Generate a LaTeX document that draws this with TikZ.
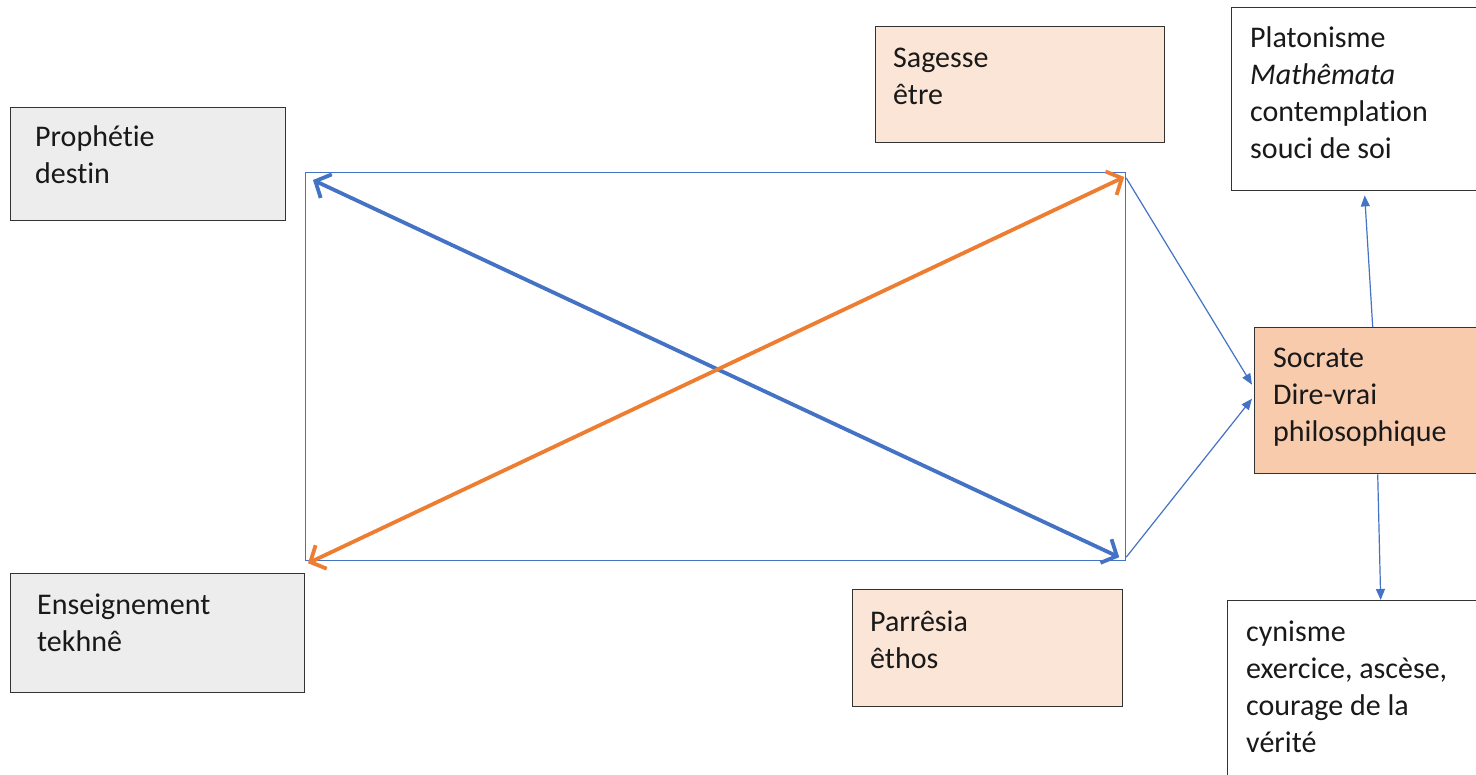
\documentclass[tikz,border=0pt]{standalone}
\usepackage{fontspec}
\setmainfont{Carlito}[Ligatures=NoCommon]
\usetikzlibrary{arrows.meta}
\definecolor{frameblue}{HTML}{4472C4}
\definecolor{orangeA}{HTML}{ED7D31}
\definecolor{grayfill}{HTML}{EDEDED}
\definecolor{peachlight}{HTML}{FBE5D6}
\definecolor{peach}{HTML}{F8CBAD}
\definecolor{boxborder}{HTML}{333333}
\begin{document}
\begin{tikzpicture}[x=1pt,y=-1pt,
  box/.style={draw=boxborder, line width=1.4pt, rectangle, inner sep=0pt, anchor=north west},
  txt/.style={font=\fontsize{30}{37}\selectfont, align=left, inner sep=0pt, anchor=base west, text=black!90},
  thickarrow/.style={line width=3.8pt, {Straight Barb[length=12pt,width=26pt]}-{Straight Barb[length=12pt,width=26pt]}},
  thinarrow/.style={draw=frameblue, line width=1.2pt, -{Triangle[length=11pt,width=9pt]}}]
\clip (0,0) rectangle (1476,775);
\fill[white] (0,0) rectangle (1476,775);
% boxes
\node[box, fill=grayfill, minimum width=275pt, minimum height=113pt] (proph) at (10,107) {};
\node[box, fill=grayfill, minimum width=294pt, minimum height=119pt] (ens) at (10,573) {};
\node[box, fill=peachlight, minimum width=289pt, minimum height=116pt] (sag) at (875,26) {};
\node[box, fill=peachlight, minimum width=270pt, minimum height=117pt] (parr) at (852,589) {};
\node[box, fill=white, minimum width=260pt, minimum height=183pt] (plat) at (1231,7) {};
\node[box, fill=peach, minimum width=230pt, minimum height=146pt] (socr) at (1254,327) {};
\node[box, fill=white, minimum width=260pt, minimum height=190pt] (cyn) at (1227,600) {};
\node[draw=frameblue, line width=1.2pt, rectangle, inner sep=0pt, anchor=north west, minimum width=820pt, minimum height=388pt] (frame) at (305,172) {};
% texts (anchored at the baseline of the last line)
\node[txt] (tproph) at (35,184) {Prophétie\\destin};
\node[txt] (tens) at (37,651) {Enseignement\\tekhnê};
\node[txt] (tsag) at (893,105) {Sagesse\\être};
\node[txt] (tparr) at (870,668) {Parrêsia\\êthos};
\node[txt] (tplat) at (1250,159) {Platonisme\\\textit{Mathêmata}\\contemplation\\souci de soi};
\node[txt] (tsocr) at (1273,442) {Socrate\\Dire-vrai\\philosophique};
\node[txt] (tcyn) at (1246,752) {cynisme\\exercice, ascèse,\\courage de la\\vérité};
% connectors
\coordinate (bA) at ([shift={(8,8)}]frame.north west);
\coordinate (bB) at ([shift={(-7,-4)}]frame.south east);
\coordinate (oA) at ([shift={(-2,5)}]frame.north east);
\coordinate (oB) at ([shift={(3,2)}]frame.south west);
\draw[thickarrow, draw=frameblue] (bA) -- (bB);
\draw[thickarrow, draw=orangeA] (oA) -- (oB);
\draw[thinarrow] ([shift={(0,6)}]frame.north east) -- ([shift={(-2,-16)}]socr.west);
\draw[thinarrow] ([shift={(0,-4)}]frame.south east) -- ([shift={(-2,-2)}]socr.west);
\draw[thinarrow] ([shift={(3,0)}]socr.north) -- ([shift={(3,4)}]plat.south);
\draw[thinarrow] ([shift={(8,0)}]socr.south) -- ([shift={(23,0)}]cyn.north);
\end{tikzpicture}
\end{document}
